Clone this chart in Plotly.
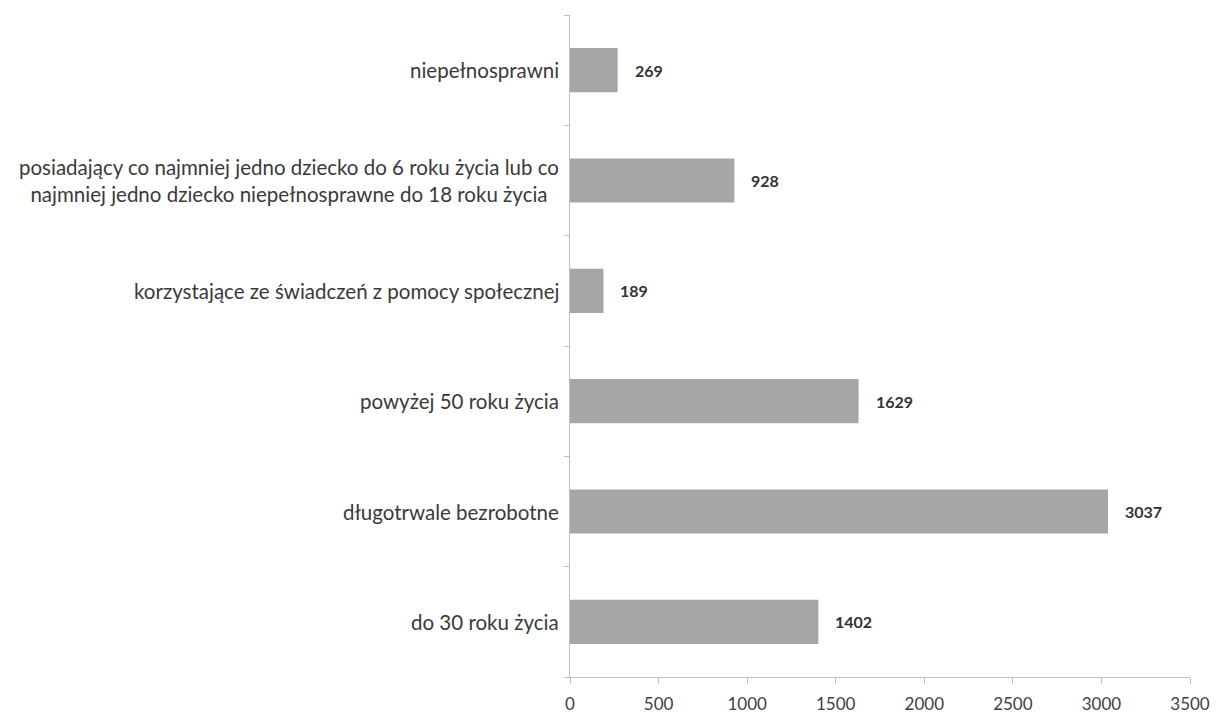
import plotly.graph_objects as go

categories = [
    "do 30 roku życia",
    "długotrwale bezrobotne",
    "powyżej 50 roku życia",
    "korzystające ze świadczeń z pomocy społecznej",
    "posiadający co najmniej jedno dziecko do 6 roku życia lub co<br>najmniej jedno dziecko niepełnosprawne do 18 roku życia",
    "niepełnosprawni",
]
values = [1402, 3037, 1629, 189, 928, 269]
x_ticks = [0, 500, 1000, 1500, 2000, 2500, 3000, 3500]

FONT = "Lato, 'Open Sans', sans-serif"

fig = go.Figure(
    go.Bar(
        x=values,
        y=categories,
        orientation="h",
        marker=dict(color="#a6a6a6", line=dict(width=0)),
        width=0.4,
        hoverinfo="x+y",
    )
)

annotations = []
for c, v in zip(categories, values):
    annotations.append(dict(
        x=v, y=c, xref="x", yref="y", text=f"<b>{v}</b>", showarrow=False,
        xanchor="left", xshift=15, font=dict(family=FONT, size=16, color="#333333"),
    ))
    annotations.append(dict(
        x=0, y=c, xref="paper", yref="y", text=c, showarrow=False,
        xanchor="right", xshift=-9, align="center",
        font=dict(family=FONT, size=20.5, color="#3a3a3a"),
    ))

fig.update_layout(
    width=1203, height=708,
    margin=dict(l=562, r=21, t=7, b=39, autoexpand=False),
    paper_bgcolor="white", plot_bgcolor="white",
    showlegend=False,
    bargap=0.6,
    annotations=annotations,
    font=dict(family=FONT, size=18, color="#404040"),
)
fig.update_xaxes(
    range=[0, 3500], tickvals=x_ticks, ticktext=[str(t) for t in x_ticks],
    automargin=False, ticklabeloverflow="allow",
    showgrid=False, zeroline=False, showline=True, linecolor="#c0c0c0", linewidth=1,
    ticks="outside", ticklen=6, tickcolor="#c0c0c0", ticklabelstandoff=6,
    tickfont=dict(family=FONT, size=17, color="#404040"),
)
fig.update_yaxes(
    categoryorder="array", categoryarray=categories, automargin=False,
    showticklabels=False, showgrid=False, zeroline=False,
    showline=True, linecolor="#c0c0c0", linewidth=1,
    ticks="outside", ticklen=5, tickcolor="#c0c0c0", tickson="boundaries",
)

fig.write_html("out.html")
